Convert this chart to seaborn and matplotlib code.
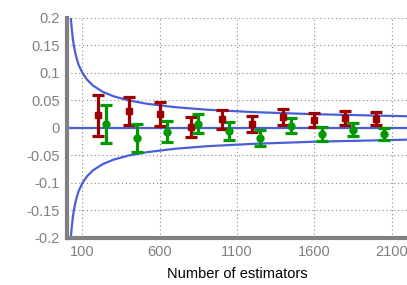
import numpy as np
import pandas as pd
import seaborn as sns
import matplotlib.pyplot as plt

# 數據：估計器數量與對應的偏差
red_n = [200, 400, 600, 800, 1000, 1200, 1400, 1600, 1800, 2000]
red_val = [0.023, 0.031, 0.026, 0.002, 0.016, 0.007, 0.020, 0.015, 0.018, 0.017]
red_err = [0.037, 0.026, 0.022, 0.018, 0.017, 0.015, 0.015, 0.013, 0.013, 0.012]

green_n = [250, 450, 650, 850, 1050, 1250, 1450, 1650, 1850, 2050]
green_val = [0.007, -0.018, -0.007, 0.008, -0.005, -0.018, 0.004, -0.011, -0.003, -0.011]
green_err = [0.034, 0.026, 0.019, 0.018, 0.016, 0.014, 0.014, 0.013, 0.012, 0.011]

# 上下界曲線
bound_n = [25, 28, 32, 36, 42, 50, 60, 75, 100, 130, 170, 230, 300, 400,
           520, 700, 900, 1200, 1600, 2200]
bound_val = [0.2, 0.189, 0.177, 0.167, 0.154, 0.141, 0.129, 0.115, 0.1, 0.0877,
             0.0767, 0.0659, 0.0577, 0.05, 0.0439, 0.0378, 0.0333, 0.0289, 0.025, 0.0213]

x_ticks = [100, 600, 1100, 1600, 2100]
y_ticks = [-0.2, -0.15, -0.1, -0.05, 0, 0.05, 0.1, 0.15, 0.2]
y_ticklabels = ['-0.2', '-0.15', '-0.1', '-0.05', '0', '0.05', '0.1', '0.15', '0.2']

sns.set_style('white')
plt.rcParams['font.family'] = ['Liberation Sans', 'DejaVu Sans']

fig = plt.figure(figsize=(4.07, 2.85), dpi=100)
ax = fig.add_axes([0.1646, 0.165, 0.8354, 0.772])

blue = '#4a5fd6'
bound = pd.DataFrame({'n': bound_n, 'upper': bound_val,
                      'lower': [-v for v in bound_val]})
sns.lineplot(data=bound, x='n', y='upper', color=blue, lw=1.6, ax=ax)
sns.lineplot(data=bound, x='n', y='lower', color=blue, lw=1.6, ax=ax)
ax.axhline(0, color=blue, lw=1.6, zorder=2)

ax.errorbar(red_n, red_val, yerr=red_err, fmt='s', color='#9e0000',
            ms=4.8, elinewidth=2.3, capsize=4, capthick=2.3, zorder=4)
ax.errorbar(green_n, green_val, yerr=green_err, fmt='o', color='#009a00',
            ms=5, elinewidth=2.3, capsize=4, capthick=2.3, zorder=4)

ax.set_xlim(0, 2200)
ax.set_ylim(-0.2, 0.2)
ax.set_xticks(x_ticks)
ax.set_yticks(y_ticks)
ax.set_yticklabels(y_ticklabels)
ax.grid(True, linestyle=(0, (1, 2.5)), color='#888888', lw=0.8)

for side in ['top', 'right']:
    ax.spines[side].set_visible(False)
for side in ['left', 'bottom']:
    ax.spines[side].set_color('#808080')
    ax.spines[side].set_linewidth(3)

ax.tick_params(axis='both', colors='#707070', labelcolor='#808080',
               labelsize=10.5, direction='in', length=2, width=2, pad=5)
ax.set_xlabel('Number of estimators', fontsize=10.5, color='black', labelpad=6)
ax.set_ylabel('')

plt.savefig('out.png', dpi=100)
plt.close()
